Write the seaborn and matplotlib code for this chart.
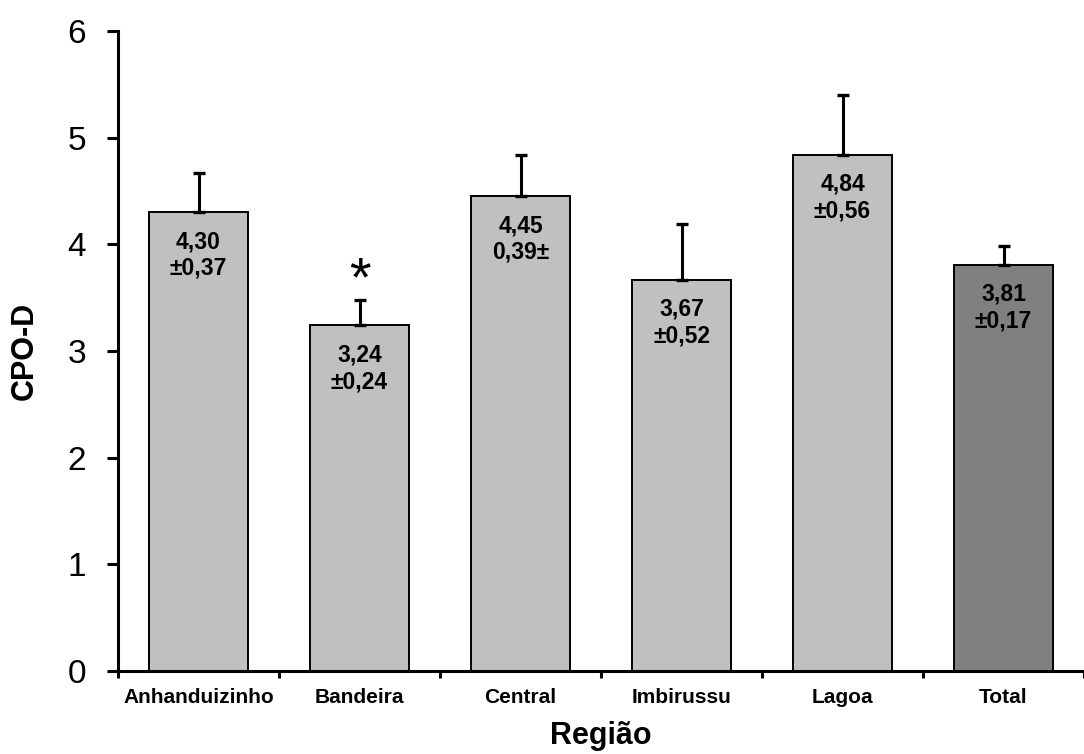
import matplotlib
matplotlib.use("Agg")
import matplotlib.pyplot as plt
import seaborn as sns
import pandas as pd
import numpy as np

regioes = ["Anhanduizinho", "Bandeira", "Central", "Imbirussu", "Lagoa", "Total"]
cpod = [4.30, 3.24, 4.45, 3.67, 4.84, 3.81]
erro = [0.37, 0.24, 0.39, 0.52, 0.56, 0.17]
rotulos = ["4,30\n±0,37", "3,24\n±0,24", "4,45\n0,39±", "3,67\n±0,52", "4,84\n±0,56", "3,81\n±0,17"]
cores = ["#C0C0C0", "#C0C0C0", "#C0C0C0", "#C0C0C0", "#C0C0C0", "#808080"]
significativo = ["Bandeira"]

sns.set_theme(style="white")
plt.rcParams["font.family"] = ["Liberation Sans", "DejaVu Sans"]
plt.rcParams.update({"text.color": "black", "axes.labelcolor": "black",
                     "xtick.color": "black", "ytick.color": "black"})

df = pd.DataFrame({"Região": regioes, "CPO-D": cpod})

fig = plt.figure(figsize=(10.84, 7.54), dpi=100)
ax = fig.add_axes([0.1089, 0.110, 0.8911, 0.849])

sns.barplot(data=df, x="Região", y="CPO-D", hue="Região", palette=cores,
            legend=False, width=0.61, edgecolor="black", linewidth=1.4,
            saturation=1, ax=ax)

x = np.arange(len(regioes))
ax.errorbar(x, cpod, yerr=[np.zeros(len(erro)), erro], fmt="none",
            ecolor="black", elinewidth=2.2, capsize=4, capthick=2.4, zorder=1)

for xi, v, lab in zip(x, cpod, rotulos):
    ax.annotate(lab, xy=(xi, v), xytext=(0, -13), textcoords="offset points",
                ha="center", va="top", fontsize=16.5, fontweight="bold",
                linespacing=1.2, color="black")

# significance marker above the error bar
for reg in significativo:
    i = regioes.index(reg)
    ax.text(i, cpod[i] + erro[i] + 0.17, "*", ha="center", va="center",
            fontsize=40, color="black")

ax.set_xlim(-0.5, 5.5)
ax.set_ylim(0, 6)
ax.set_yticks(range(7))
ax.set_xticks(x)
ax.set_xticklabels(regioes, fontsize=15, fontweight="bold")
ax.set_xticks(np.arange(-0.5, 6.0, 1.0), minor=True)
ax.tick_params(axis="x", which="major", length=0, pad=12)
ax.tick_params(axis="x", which="minor", length=5, width=2.2, direction="out",
               color="black", bottom=True)
ax.tick_params(axis="y", length=8, width=2.2, direction="out", color="black",
               left=True, labelsize=24, pad=15)

for s in ["top", "right"]:
    ax.spines[s].set_visible(False)
for s in ["left", "bottom"]:
    ax.spines[s].set_linewidth(2.2)
    ax.spines[s].set_color("black")

ax.set_xlabel("Região", fontsize=22, fontweight="bold", labelpad=10)
ax.set_ylabel("CPO-D", fontsize=22, fontweight="bold", labelpad=20)

fig.savefig("out.png", dpi=100)
